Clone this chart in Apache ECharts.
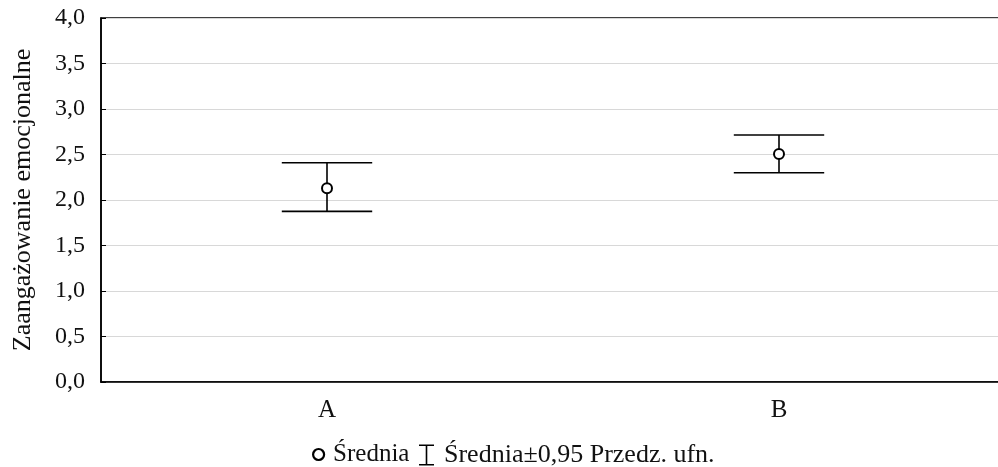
<!DOCTYPE html>
<html>
<head>
<meta charset="utf-8">
<script src="https://cdn.jsdelivr.net/npm/echarts@6/dist/echarts.min.js"></script>
<style>
  html, body { margin: 0; padding: 0; background: #fff; overflow: hidden; }
  /* the plot frame runs past the right edge of the page */
  #chart { width: 1006px; height: 467px; }
</style>
</head>
<body>
<div id="chart"></div>
<script>
// Groups and their means with 95% confidence limits
const categories = ['A', 'B'];
const means = [2.13, 2.505];
const lowerCI = [1.875, 2.30];
const upperCI = [2.41, 2.715];

const yTicks = { min: 0, max: 4, step: 0.5 };
const yTitle = 'Zaangażowanie emocjonalne';
const meanName = 'Średnia';
const ciName = 'Średnia±0,95 Przedz. ufn.';

const FONT = '"Liberation Serif", "DejaVu Serif", serif';
const chart = echarts.init(document.getElementById('chart'), null, { renderer: 'canvas' });

const ciData = categories.map((c, i) => [i, lowerCI[i], upperCI[i]]);

chart.setOption({
  animation: false,
  backgroundColor: '#fff',
  grid: {
    left: 101, top: 18, right: 1, height: 364,
    show: true, borderColor: '#000', borderWidth: 1.5, backgroundColor: 'transparent'
  },
  legend: [
    {
      left: 307, top: 437, itemWidth: 11, itemHeight: 11, itemGap: 0,
      data: [{ name: meanName, icon: 'circle',
               itemStyle: { color: '#fff', borderColor: '#000', borderWidth: 2.2 } }],
      textStyle: { fontFamily: FONT, fontSize: 25, color: '#111', padding: [0, 0, 0, 4] },
      selectedMode: false
    },
    {
      left: 414, top: 437, itemWidth: 15, itemHeight: 21, itemGap: 0,
      data: [{ name: ciName,
               icon: 'path://M0,0h15v1.6h-15zM6.7,0h1.6v21h-1.6zM0,19.4h15v1.6h-15z',
               itemStyle: { color: '#000', borderWidth: 0 } }],
      textStyle: { fontFamily: FONT, fontSize: 26, color: '#111', padding: [0, 0, 0, 5] },
      selectedMode: false
    }
  ],
  xAxis: {
    type: 'category',
    data: categories,
    boundaryGap: true,
    axisLine: { lineStyle: { color: '#000', width: 1.5 } },
    axisTick: { inside: true, length: 5, alignWithLabel: true, lineStyle: { color: '#000' } },
    axisLabel: { fontFamily: FONT, fontSize: 25, color: '#111', margin: 16 },
    splitLine: { show: false }
  },
  yAxis: {
    type: 'value',
    min: yTicks.min, max: yTicks.max, interval: yTicks.step,
    name: yTitle,
    nameLocation: 'middle',
    nameGap: 65,
    nameRotate: 90,
    nameTextStyle: { fontFamily: FONT, fontSize: 26, color: '#111' },
    axisLine: { show: true, lineStyle: { color: '#000', width: 1.5 } },
    axisTick: { show: true, inside: true, length: 5, lineStyle: { color: '#000' } },
    axisLabel: {
      fontFamily: FONT, fontSize: 24, color: '#111', margin: 16,
      formatter: v => v.toFixed(1).replace('.', ',')
    },
    splitLine: { show: true, lineStyle: { color: '#d8d8d8', width: 1 } }
  },
  series: [
    {
      name: ciName,
      type: 'custom',
      data: ciData,
      z: 3,
      itemStyle: { color: '#000' },
      renderItem: function (params, api) {
        const x = api.value(0);
        const lo = api.coord([x, api.value(1)]);
        const hi = api.coord([x, api.value(2)]);
        const half = api.size([1, 0])[0] * 0.1;
        const style = { stroke: '#000', lineWidth: 1.6, fill: null };
        return {
          type: 'group',
          children: [
            { type: 'line', shape: { x1: hi[0], y1: hi[1], x2: lo[0], y2: lo[1] }, style },
            { type: 'line', shape: { x1: hi[0] - half, y1: hi[1], x2: hi[0] + half, y2: hi[1] }, style },
            { type: 'line', shape: { x1: lo[0] - half, y1: lo[1], x2: lo[0] + half, y2: lo[1] }, style }
          ]
        };
      }
    },
    {
      name: meanName,
      type: 'scatter',
      data: means.map((m, i) => [i, m]),
      symbol: 'circle',
      symbolSize: 10,
      z: 4,
      itemStyle: { color: '#fff', borderColor: '#000', borderWidth: 2, opacity: 1 }
    }
  ]
});
</script>
</body>
</html>
